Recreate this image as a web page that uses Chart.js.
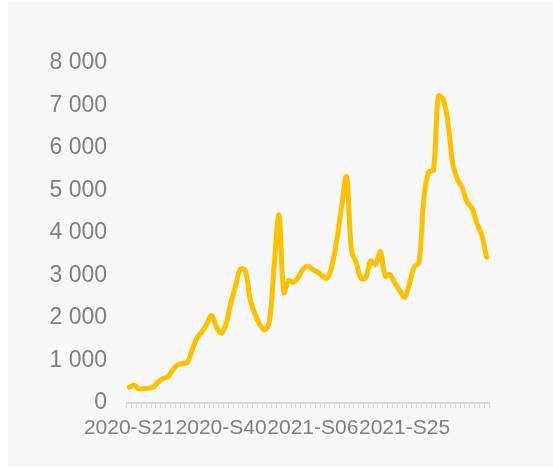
<!DOCTYPE html>
<html>
<head>
<meta charset="utf-8">
<script src="https://cdn.jsdelivr.net/npm/chart.js@4.4.1/dist/chart.umd.min.js"></script>
<style>
  html, body { margin: 0; padding: 0; background: #ffffff; }
  #panel { position: absolute; left: 8px; top: 2px; width: 545px; height: 465px; background: #f8f8f8; }
  #wrap { position: absolute; left: 0; top: 0; width: 553px; height: 469px; }
</style>
</head>
<body>
<div id="panel"></div>
<div id="wrap"><canvas id="mycanvas" width="553" height="469"></canvas></div>
<script>
// semaines (categories)
var weeks = [
  '2020-S21','2020-S22','2020-S23','2020-S24','2020-S25','2020-S26','2020-S27','2020-S28','2020-S29','2020-S30',
  '2020-S31','2020-S32','2020-S33','2020-S34','2020-S35','2020-S36','2020-S37','2020-S38','2020-S39','2020-S40',
  '2020-S41','2020-S42','2020-S43','2020-S44','2020-S45','2020-S46','2020-S47','2020-S48','2020-S49','2020-S50',
  '2020-S51','2020-S52','2020-S53','2021-S01','2021-S02','2021-S03','2021-S04','2021-S05','2021-S06','2021-S07',
  '2021-S08','2021-S09','2021-S10','2021-S11','2021-S12','2021-S13','2021-S14','2021-S15','2021-S16','2021-S17',
  '2021-S18','2021-S19','2021-S20','2021-S21','2021-S22','2021-S23','2021-S24','2021-S25','2021-S26','2021-S27',
  '2021-S28','2021-S29','2021-S30','2021-S31','2021-S32','2021-S33','2021-S34','2021-S35','2021-S36','2021-S37',
  '2021-S38','2021-S39','2021-S40','2021-S41','2021-S42'
];

// weekly values
var cases = [
  370, 420, 330, 340, 350, 380, 500, 575, 620, 780,
  900, 930, 950, 1250, 1530, 1670, 1850, 2060, 1800, 1640,
  1850, 2350, 2750, 3150, 3120, 2450, 2100, 1850, 1720, 1900,
  3250, 4420, 2600, 2880, 2840, 2960, 3150, 3220, 3140, 3080,
  2980, 2940, 3250, 3850, 4650, 5320, 3600, 3300, 2930, 2960,
  3340, 3260, 3560, 2990, 3020, 2820, 2650, 2490, 2800, 3200,
  3300, 4800, 5440, 5480, 7220, 7150, 6600, 5620, 5260, 5050,
  4720, 4580, 4230, 3950, 3430
];

// only every 19th week gets a label
var labelEvery = 19;

var yMin = 0;
var yMax = 8000;
var yStep = 1000;

function fmt(v) {
  return String(v).replace(/\B(?=(\d{3})+(?!\d))/g, ' ');
}

var ctx = document.getElementById('mycanvas');

var chartdata = {
  labels: weeks,
  datasets: [
    {
      label: 'cas',
      data: cases,
      borderColor: '#ffc000',
      backgroundColor: '#ffc000',
      borderWidth: 5,
      pointRadius: 0,
      tension: 0.35,
      borderCapStyle: 'round',
      borderJoinStyle: 'round',
      fill: false
    }
  ]
};

var lineGraph = new Chart(ctx, {
  type: 'line',
  data: chartdata,
  options: {
    responsive: false,
    animation: false,
    layout: { padding: { top: 63, right: 64, bottom: 0, left: 0 } },
    plugins: {
      legend: { display: false },
      tooltip: { enabled: false }
    },
    scales: {
      x: {
        offset: true,
        grid: {
          offset: true,
          drawOnChartArea: false,
          drawTicks: true,
          tickLength: 5,
          color: '#d9d9d9',
          lineWidth: 1
        },
        border: { display: true, color: '#d9d9d9', width: 2 },
        ticks: {
          autoSkip: false,
          maxRotation: 0,
          minRotation: 0,
          padding: 8,
          color: '#7f7f7f',
          font: { family: 'Liberation Sans, Arial, sans-serif', size: 21 },
          callback: function(val, i) {
            return i % labelEvery === 0 ? weeks[i] : '';
          }
        },
        afterFit: function(scale) { scale.height = 66; }
      },
      y: {
        min: yMin,
        max: yMax,
        grid: { display: false },
        border: { display: false },
        ticks: {
          stepSize: yStep,
          padding: 12,
          color: '#7f7f7f',
          font: { family: 'Liberation Sans, Arial, sans-serif', size: 23 },
          callback: function(v) { return fmt(v); }
        },
        afterFit: function(scale) { scale.width = 127; }
      }
    }
  }
});
</script>
</body>
</html>
